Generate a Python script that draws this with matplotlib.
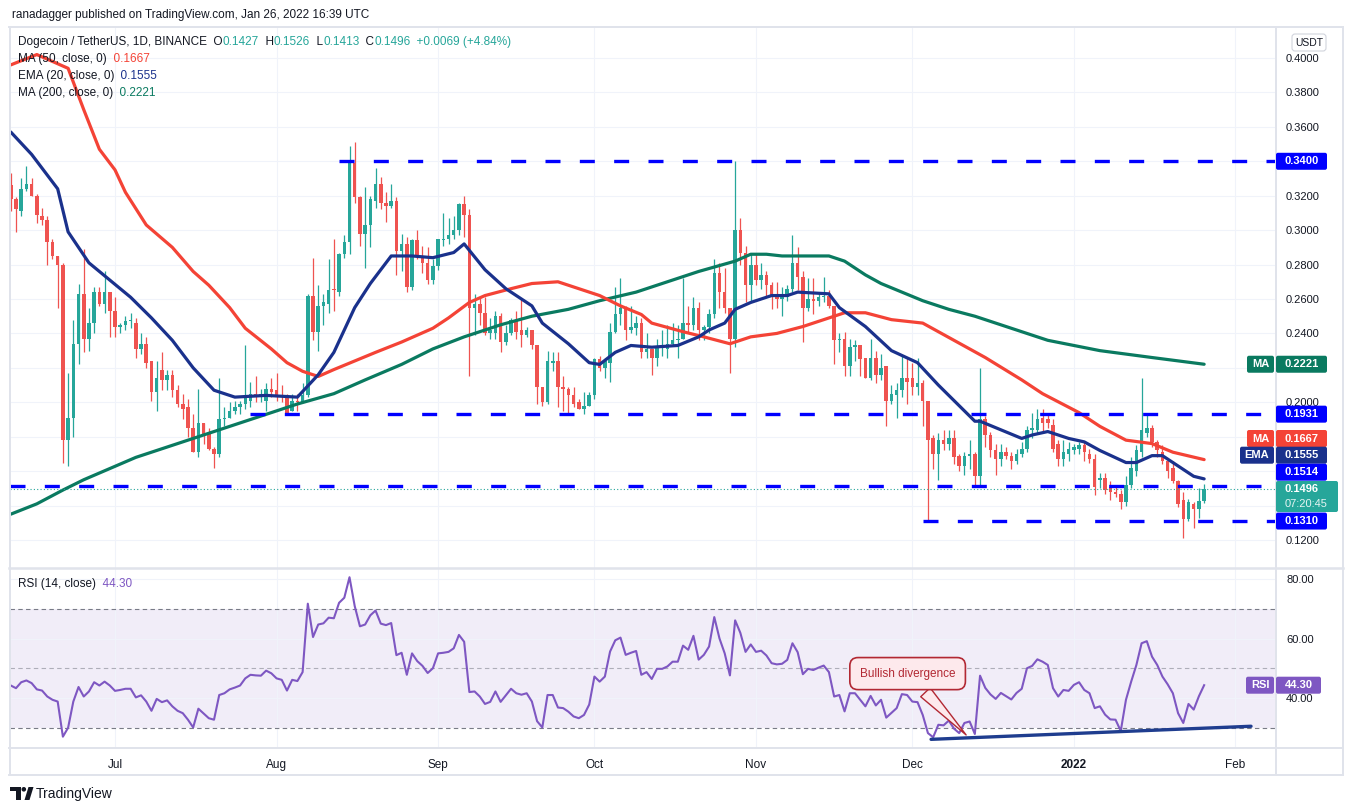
import numpy as np
import pandas as pd
import matplotlib
matplotlib.use("Agg")
import matplotlib.pyplot as plt
from matplotlib.patches import FancyBboxPatch, Polygon, Circle
from matplotlib.transforms import IdentityTransform
from matplotlib.lines import Line2D

plt.rcParams['font.family'] = ['Liberation Sans', 'DejaVu Sans']

W, H = 1353, 811

# daily bars, DOGE/USDT, 11 Jun 2021 .. 26 Jan 2022
start = pd.Timestamp('2021-06-11')
dates = pd.date_range(start, '2022-01-26', freq='D')

opens = [
    .326, .318, .311, .324, .327, .320, .308, .306, .293, .285,
    .280, .178, .191, .234, .263, .237, .246, .264, .257, .264,
    .253, .244, .245, .247, .246, .231, .234, .224, .206, .219,
    .213, .216, .207, .199, .197, .185, .171, .188, .182, .173,
    .170, .190, .191, .195, .197, .199, .201, .205, .204, .201,
    .208, .207, .204, .203, .195, .201, .200, .204, .262, .241,
    .256, .257, .266, .264, .286, .293, .339, .319, .298, .303,
    .317, .327, .316, .314, .317, .288, .292, .267, .294, .285,
    .281, .271, .279, .294, .295, .297, .300, .315, .309, .255,
    .257, .252, .240, .240, .250, .235, .240, .248, .242, .239,
    .242, .233, .209, .200, .223, .224, .209, .208, .204, .200,
    .196, .198, .204, .225, .220, .223, .241, .251, .255, .242,
    .243, .246, .229, .231, .226, .232, .231, .234, .236, .237,
    .246, .245, .255, .242, .244, .251, .275, .264, .255, .237,
    .300, .287, .268, .280, .271, .274, .268, .262, .260, .261,
    .266, .281, .273, .255, .260, .259, .261, .262, .256, .236,
    .237, .221, .232, .233, .226, .214, .226, .216, .221, .201,
    .204, .207, .214, .214, .209, .211, .201, .179, .170, .178,
    .176, .179, .169, .163, .169, .170, .157, .190, .181, .172,
    .167, .171, .169, .166, .170, .173, .184, .184, .191, .190,
    .187, .176, .167, .170, .172, .173, .175, .170, .167, .155,
    .156, .151, .148, .147, .142, .152, .160, .171, .182, .185,
    .177, .171, .166, .162, .154, .143, .132, .141, .138, .1427,
]
highs = [
    .333, .319, .330, .337, .330, .321, .313, .308, .295, .285,
    .281, .217, .248, .269, .289, .255, .267, .267, .276, .264,
    .261, .246, .250, .252, .249, .240, .238, .224, .224, .229,
    .219, .219, .210, .205, .202, .193, .208, .188, .185, .174,
    .214, .197, .200, .201, .201, .233, .212, .215, .208, .211,
    .214, .217, .210, .205, .205, .205, .211, .263, .284, .268,
    .263, .283, .295, .287, .297, .349, .351, .320, .325, .320,
    .336, .331, .322, .327, .319, .298, .296, .295, .300, .291,
    .290, .283, .295, .310, .307, .308, .316, .320, .312, .263,
    .262, .261, .249, .253, .252, .245, .249, .253, .260, .244,
    .242, .233, .209, .230, .229, .229, .215, .209, .209, .202,
    .206, .206, .226, .227, .226, .246, .267, .272, .256, .256,
    .250, .249, .240, .231, .237, .242, .245, .246, .245, .272,
    .256, .261, .258, .245, .254, .283, .281, .278, .255, .340,
    .307, .291, .287, .286, .281, .276, .270, .270, .267, .268,
    .297, .290, .276, .272, .272, .264, .273, .265, .256, .240,
    .241, .237, .236, .233, .226, .237, .230, .228, .221, .210,
    .211, .227, .226, .223, .226, .213, .201, .181, .182, .184,
    .184, .184, .170, .171, .178, .171, .220, .192, .183, .176,
    .176, .174, .171, .173, .177, .186, .194, .196, .196, .194,
    .190, .178, .178, .177, .176, .177, .177, .173, .170, .159,
    .159, .154, .152, .149, .157, .168, .175, .214, .194, .187,
    .178, .175, .167, .166, .155, .148, .144, .142, .150, .1526,
]
lows = [
    .311, .299, .308, .323, .320, .304, .303, .280, .283, .255,
    .165, .163, .180, .222, .229, .230, .240, .256, .252, .238,
    .238, .240, .242, .243, .226, .228, .220, .201, .195, .207,
    .207, .203, .197, .190, .180, .171, .168, .176, .172, .162,
    .168, .186, .191, .193, .193, .196, .197, .200, .200, .195,
    .203, .201, .200, .194, .195, .195, .200, .203, .236, .230,
    .245, .252, .253, .262, .284, .286, .316, .291, .278, .290,
    .313, .312, .305, .313, .274, .276, .264, .265, .283, .275,
    .269, .269, .277, .291, .292, .295, .297, .296, .215, .239,
    .245, .239, .237, .237, .229, .233, .239, .237, .232, .238,
    .231, .199, .198, .199, .218, .197, .195, .194, .197, .196,
    .193, .198, .202, .218, .214, .212, .240, .245, .236, .240,
    .239, .226, .226, .216, .221, .227, .226, .233, .226, .237,
    .241, .242, .236, .236, .240, .249, .255, .252, .217, .232,
    .280, .258, .259, .268, .266, .262, .254, .255, .250, .259,
    .264, .265, .235, .253, .251, .256, .258, .255, .222, .229,
    .215, .215, .224, .215, .214, .213, .211, .213, .186, .199,
    .191, .203, .199, .204, .204, .186, .131, .161, .155, .172,
    .172, .164, .160, .158, .161, .152, .152, .174, .168, .158,
    .163, .167, .161, .164, .168, .171, .179, .182, .183, .185,
    .171, .163, .163, .166, .170, .170, .166, .165, .146, .150,
    .147, .143, .145, .138, .140, .150, .157, .168, .180, .174,
    .168, .164, .156, .153, .139, .121, .131, .127, .133, .1413,
]
closes = [
    .318, .312, .324, .327, .320, .309, .306, .293, .285, .280,
    .178, .191, .234, .263, .237, .246, .264, .257, .264, .253,
    .244, .245, .247, .248, .231, .234, .223, .206, .214, .213,
    .216, .207, .199, .196, .185, .171, .188, .181, .173, .170,
    .190, .191, .195, .197, .199, .203, .205, .204, .205, .208,
    .206, .203, .203, .194, .201, .200, .204, .262, .241, .256,
    .258, .265, .265, .286, .293, .339, .319, .298, .303, .318,
    .327, .316, .314, .317, .288, .292, .267, .294, .285, .281,
    .271, .279, .295, .295, .297, .300, .315, .309, .255, .257,
    .252, .240, .242, .250, .235, .240, .248, .241, .239, .242,
    .233, .209, .200, .224, .224, .209, .208, .204, .199, .196,
    .198, .204, .225, .220, .224, .241, .251, .255, .242, .244,
    .246, .229, .231, .226, .232, .233, .234, .236, .237, .246,
    .245, .255, .242, .244, .251, .275, .264, .255, .237, .300,
    .287, .268, .280, .271, .274, .268, .261, .260, .262, .266,
    .281, .273, .255, .260, .259, .261, .262, .256, .236, .237,
    .221, .232, .233, .225, .214, .226, .216, .220, .201, .205,
    .207, .214, .212, .209, .211, .201, .178, .170, .178, .176,
    .179, .168, .163, .169, .170, .157, .190, .181, .172, .167,
    .171, .169, .166, .170, .173, .184, .185, .190, .188, .188,
    .173, .167, .171, .173, .174, .175, .171, .167, .151, .156,
    .149, .148, .147, .142, .152, .162, .172, .184, .185, .177,
    .172, .166, .160, .154, .141, .132, .142, .138, .1427, .1496,
]

# RSI(14) per bar
rsi = [
    44.2, 43.3, 45.3, 45.9, 45.0, 42.9, 42.5, 40.5, 39.4, 38.8,
    27.0, 30.0, 38.8, 43.7, 40.5, 42.2, 45.3, 44.2, 45.5, 44.2,
    42.4, 42.7, 43.1, 43.1, 40.2, 40.9, 38.8, 35.7, 39.7, 38.6,
    39.2, 37.2, 35.7, 34.9, 32.7, 30.1, 36.4, 34.8, 33.2, 32.7,
    41.0, 41.6, 42.9, 43.5, 44.2, 46.6, 47.8, 47.6, 47.5, 49.2,
    48.3, 46.6, 46.1, 42.5, 46.1, 45.7, 48.7, 71.7, 60.5, 64.7,
    65.1, 67.0, 66.8, 72.0, 73.7, 80.6, 70.9, 64.1, 64.7, 67.8,
    69.4, 65.0, 64.5, 65.2, 54.4, 55.2, 47.8, 55.0, 52.4, 50.8,
    48.4, 50.0, 55.0, 55.2, 55.5, 56.7, 61.2, 58.9, 42.0, 42.2,
    40.5, 38.0, 38.7, 42.2, 38.7, 40.9, 43.1, 41.6, 41.1, 41.6,
    38.8, 32.2, 30.1, 41.0, 41.0, 36.8, 36.6, 35.4, 33.8, 33.2,
    34.3, 37.8, 47.2, 45.5, 47.2, 55.6, 59.4, 60.3, 54.5, 55.2,
    55.8, 47.8, 48.7, 46.4, 49.8, 49.8, 50.6, 52.2, 52.2, 57.6,
    56.2, 60.9, 52.9, 54.5, 57.3, 67.2, 60.0, 55.0, 47.6, 66.1,
    61.9, 55.5, 58.0, 55.5, 55.9, 54.3, 51.7, 51.3, 51.5, 52.8,
    58.4, 55.4, 48.0, 49.8, 49.4, 50.2, 50.9, 48.7, 40.5, 41.0,
    35.5, 41.6, 41.6, 39.4, 37.2, 40.7, 37.5, 39.4, 33.4, 35.0,
    36.6, 41.3, 41.0, 38.8, 38.6, 34.3, 28.2, 26.8, 31.0, 30.8,
    32.4, 29.7, 28.2, 31.6, 32.1, 27.9, 47.5, 43.4, 41.2, 39.7,
    41.7, 40.6, 39.5, 41.7, 43.1, 50.0, 50.8, 53.0, 52.2, 51.1,
    43.3, 40.5, 42.7, 42.4, 44.4, 45.3, 42.7, 41.6, 36.6, 37.2,
    34.4, 32.8, 32.7, 28.9, 39.4, 45.5, 51.1, 58.4, 59.1, 53.9,
    51.1, 47.2, 44.6, 41.6, 34.9, 31.6, 38.0, 36.1, 40.6, 44.3,
]

# moving averages (bar index, value)
ema20_idx = [0, 4, 9, 11, 15, 19, 23, 27, 31, 35, 39, 43, 49, 55, 59, 62, 66, 69, 73, 77,
             81, 85, 87, 91, 95, 100, 102, 107, 111, 113, 116, 119, 123, 128, 132, 134, 137, 139, 142, 146,
             149, 151, 157, 159, 164, 169, 174, 178, 185, 186, 190, 194, 196, 199, 203, 206, 209, 214, 216, 219,
             221, 224, 227, 229]
ema20_val = [0.357, 0.344, 0.324, 0.299, 0.281, 0.271, 0.261, 0.249, 0.236, 0.220,
             0.207, 0.203, 0.204, 0.203, 0.216, 0.229, 0.255, 0.269, 0.285, 0.285,
             0.284, 0.287, 0.292, 0.277, 0.266, 0.256, 0.246, 0.234, 0.223, 0.222,
             0.229, 0.233, 0.232, 0.233, 0.238, 0.242, 0.246, 0.254, 0.258, 0.262,
             0.262, 0.264, 0.263, 0.255, 0.244, 0.230, 0.223, 0.210, 0.189, 0.189,
             0.184, 0.179, 0.181, 0.183, 0.179, 0.177, 0.172, 0.165, 0.165, 0.169,
             0.169, 0.163, 0.157, 0.1555]
ma50_idx = [0, 5, 11, 14, 17, 20, 22, 26, 31, 35, 38, 42, 45, 50, 53, 56, 59, 62, 66, 70,
            75, 81, 84, 88, 91, 96, 100, 105, 109, 113, 117, 121, 123, 129, 133, 138, 142, 147, 152, 157,
            160, 164, 169, 175, 181, 187, 194, 198, 205, 209, 214, 219, 223, 229]
ma50_val = [0.396, 0.402, 0.394, 0.370, 0.347, 0.335, 0.322, 0.303, 0.290, 0.276,
            0.268, 0.255, 0.243, 0.231, 0.223, 0.218, 0.215, 0.219, 0.224, 0.229,
            0.235, 0.243, 0.249, 0.258, 0.262, 0.266, 0.269, 0.270, 0.266, 0.262,
            0.256, 0.251, 0.246, 0.241, 0.238, 0.234, 0.238, 0.240, 0.244, 0.249,
            0.252, 0.252, 0.248, 0.246, 0.236, 0.226, 0.213, 0.205, 0.194, 0.186,
            0.178, 0.176, 0.171, 0.1667]
ma200_idx = [0, 5, 10, 14, 24, 30, 36, 43, 49, 55, 62, 68, 75, 81, 87, 94, 100, 107, 113, 120,
             126, 132, 139, 142, 145, 148, 157, 160, 164, 167, 175, 180, 185, 190, 195, 199, 209, 219, 229]
ma200_val = [0.135, 0.141, 0.149, 0.155, 0.168, 0.174, 0.180, 0.187, 0.193, 0.199,
             0.205, 0.213, 0.222, 0.231, 0.238, 0.245, 0.250, 0.254, 0.259, 0.264,
             0.270, 0.276, 0.282, 0.286, 0.286, 0.285, 0.285, 0.282, 0.274, 0.269,
             0.259, 0.254, 0.250, 0.245, 0.240, 0.236, 0.230, 0.226, 0.2221]

# horizontal levels drawn by the author
levels = [0.3400, 0.1931, 0.1514, 0.1310]
level_from = ['2021-08-13', '2021-07-27', None, '2021-12-03']

# RSI divergence trend line
trend_idx = [176.6, 238.0]
trend_rsi = [26.1, 30.5]

month_starts = ['2021-07-01', '2021-08-01', '2021-09-01', '2021-10-01',
                '2021-11-01', '2021-12-01', '2022-01-01', '2022-02-01']
month_labels = ['Jul', 'Aug', 'Sep', 'Oct', 'Nov', 'Dec', '2022', 'Feb']
price_ticks = [0.12, 0.14, 0.16, 0.18, 0.20, 0.22, 0.24, 0.26, 0.28, 0.30, 0.32, 0.34, 0.36, 0.38, 0.40]
hidden_ticks = [0.14, 0.16, 0.18, 0.22, 0.34]   # covered by value tags on the chart
rsi_ticks = [40, 60, 80]

UP, DOWN = '#26a69a', '#ef5350'
MA50_C, EMA_C, MA200_C = '#f44336', '#1a318c', '#0a7a60'
LEVEL_C = '#0000ff'
RSI_C = '#7e57c2'
TXT = '#131722'
FRAME = '#e0e3eb'
GRID = '#f0f3fa'


def rect(x0, y0, x1, y1):
    return [x0 / W, 1 - y1 / H, (x1 - x0) / W, (y1 - y0) / H]


fig = plt.figure(figsize=(W / 100, H / 100), dpi=100)
fig.patch.set_facecolor('white')
ax = fig.add_axes(rect(10, 27, 1275, 568))
axr = fig.add_axes(rect(10, 568, 1275, 748), sharex=ax)

x = np.arange(len(dates))
o, h, l, c = map(np.array, (opens, highs, lows, closes))
col = np.where(c >= o, UP, DOWN)

# candles
ax.vlines(x, l, h, colors=col, lw=0.9, zorder=2)
ax.bar(x, np.maximum(np.abs(c - o), 0.0007), bottom=np.minimum(o, c),
       width=0.68, color=col, lw=0, zorder=2)

# moving averages
ax.plot(ma200_idx, ma200_val, color=MA200_C, lw=2.3, zorder=3, solid_capstyle='round')
ax.plot(ma50_idx, ma50_val, color=MA50_C, lw=2.3, zorder=3, solid_capstyle='round')
ax.plot(ema20_idx, ema20_val, color=EMA_C, lw=2.3, zorder=3, solid_capstyle='round')

xmin, xmax = -0.15, 242.6
ax.set_xlim(xmin, xmax)
ax.set_ylim(0.10373, 0.41801)

for lv, frm in zip(levels, level_from):
    x0 = xmin if frm is None else (pd.Timestamp(frm) - start).days
    ax.hlines(lv, x0, xmax, color=LEVEL_C, lw=2.4, linestyles=(0, (4.5, 5.8)), zorder=4)

ax.axhline(closes[-1], color=UP, lw=0.8, ls=(0, (1, 2)), zorder=4)

month_idx = [(pd.Timestamp(m) - start).days for m in month_starts]
ax.set_xticks(month_idx)
ax.set_yticks(price_ticks)
ax.set_yticklabels(['' if any(abs(t - hT) < 1e-9 for hT in hidden_ticks) else f'{t:.4f}'
                    for t in price_ticks])
ax.yaxis.tick_right()
ax.tick_params(axis='y', length=0, pad=8, labelsize=8, labelcolor=TXT)
ax.tick_params(axis='x', length=0, labelbottom=False)
ax.grid(True, color=GRID, lw=0.8)
ax.set_axisbelow(True)
for s in ax.spines.values():
    s.set_visible(False)

# RSI panel
axr.axhspan(30, 70, color=RSI_C, alpha=0.1, lw=0, zorder=0)
axr.axhline(70, color='#787b86', lw=0.8, ls=(0, (4, 3)), zorder=1)
axr.axhline(30, color='#787b86', lw=0.8, ls=(0, (4, 3)), zorder=1)
axr.axhline(50, color='#787b86', lw=0.8, ls=(0, (4, 3)), alpha=0.55, zorder=1)
axr.plot(x, rsi, color=RSI_C, lw=1.5, zorder=3)
axr.plot(trend_idx, trend_rsi, color='#1f3d8f', lw=2.4, zorder=4, solid_capstyle='round')
axr.set_ylim(23.19, 83.70)
axr.set_yticks(rsi_ticks)
axr.set_yticklabels([f'{t:.2f}' for t in rsi_ticks])
axr.yaxis.tick_right()
axr.tick_params(axis='y', length=0, pad=8, labelsize=8, labelcolor=TXT)
axr.set_xticks(month_idx)
axr.set_xticklabels(month_labels)
axr.tick_params(axis='x', length=0, pad=8, labelsize=8.5, labelcolor=TXT)
axr.get_xticklabels()[6].set_fontweight('bold')
axr.grid(True, color=GRID, lw=0.8)
axr.set_axisbelow(True)
for s in axr.spines.values():
    s.set_visible(False)

# callout
tip = (163.7 + 20, 26.9)
axr.annotate('Bullish divergence', xy=tip, xytext=(172.1, 48.2), ha='center', va='center',
             color='#b22833', fontsize=8.5, zorder=6,
             bbox=dict(boxstyle='round,pad=0.85,rounding_size=0.7', fc='#fde9ec', ec='#b22833', lw=1.2),
             arrowprops=dict(arrowstyle='wedge,tail_width=1.1,shrink_factor=0.5',
                             fc='#fde9ec', ec='#b22833', lw=1.0))

# frame
IT = IdentityTransform()


def hline_px(y, x0, x1, lw=1.4):
    fig.add_artist(Line2D([x0, x1], [H - y, H - y], transform=IT, color=FRAME, lw=lw, zorder=1))


def vline_px(xp, y0, y1, lw=1.4):
    fig.add_artist(Line2D([xp, xp], [H - y0, H - y1], transform=IT, color=FRAME, lw=lw, zorder=1))


hline_px(27, 9, 1343)
hline_px(775, 9, 1343)
hline_px(568, 9, 1343, lw=1.8)
hline_px(748, 9, 1343)
vline_px(9.5, 27, 775)
vline_px(1342.5, 27, 775)
vline_px(1275.5, 27, 775)


def img_y(axis, v):
    return H - axis.transData.transform((0, v))[1]


def box(x0, x1, yc, hgt, color, text, weight='bold', size=8, tc='white'):
    fig.add_artist(FancyBboxPatch((x0, H - yc - hgt / 2), x1 - x0, hgt,
                                  boxstyle='round,pad=0,rounding_size=2', transform=IT,
                                  fc=color, ec='none', zorder=5))
    fig.text((x0 + x1) / 2, H - yc, text, transform=IT, ha='center', va='center',
             color=tc, fontsize=size, fontweight=weight, zorder=6)


# right-axis value tags (stacked where they would overlap)
box(1276, 1327, img_y(ax, levels[0]), 17, LEVEL_C, f'{levels[0]:.4f}')
y_ma200 = img_y(ax, ma200_val[-1])
box(1247, 1274, y_ma200, 17, MA200_C, 'MA')
box(1276, 1327, y_ma200, 17, MA200_C, f'{ma200_val[-1]:.4f}')
box(1276, 1327, img_y(ax, levels[1]), 17, LEVEL_C, f'{levels[1]:.4f}')
box(1247, 1274, 438.5, 17, MA50_C, 'MA')
box(1276, 1327, 438.5, 17, MA50_C, f'{ma50_val[-1]:.4f}')
box(1240, 1274, 455.2, 17, EMA_C, 'EMA')
box(1276, 1327, 455.2, 17, EMA_C, f'{ema20_val[-1]:.4f}')
box(1276, 1327, 472.2, 17, LEVEL_C, f'{levels[2]:.4f}')
fig.add_artist(FancyBboxPatch((1276, H - 512), 62, 31, boxstyle='round,pad=0,rounding_size=2',
                              transform=IT, fc=UP, ec='none', zorder=5))
fig.text(1301.5, H - 489, f'{closes[-1]:.4f}', transform=IT, ha='center', va='center',
         color='white', fontsize=8, fontweight='bold', zorder=6)
fig.text(1306, H - 504, '07:20:45', transform=IT, ha='center', va='center',
         color='#e6f5f3', fontsize=8, zorder=6)
box(1276, 1327, img_y(ax, levels[3]), 17, LEVEL_C, f'{levels[3]:.4f}')
y_rsi = img_y(axr, rsi[-1])
box(1246, 1274, y_rsi, 17, RSI_C, 'RSI')
box(1276, 1321, y_rsi, 17, RSI_C, f'{rsi[-1]:.2f}')

# USDT unit tag
fig.add_artist(FancyBboxPatch((1292, H - 51), 34, 17, boxstyle='round,pad=0,rounding_size=3',
                              transform=IT, fc='white', ec='#d1d4dc', lw=0.8, zorder=5))
fig.text(1309, H - 42.5, 'USDT', transform=IT, ha='center', va='center',
         color=TXT, fontsize=7.5, zorder=6)

# text lines
renderer = fig.canvas.get_renderer()


def seg_line(xp, yp, parts, size=8.5):
    for s, cl in parts:
        t = fig.text(xp, H - yp, s, transform=IT, color=cl, fontsize=size,
                     ha='left', va='center', zorder=7)
        xp += t.get_window_extent(renderer).width


chg = closes[-1] - closes[-2]
pct = chg / closes[-2] * 100
fig.text(12, H - 15, 'ranadagger published on TradingView.com, Jan 26, 2022 16:39 UTC',
         transform=IT, color=TXT, fontsize=8.5, ha='left', va='center')
seg_line(18, 42, [('Dogecoin / TetherUS, 1D, BINANCE', TXT),
                  ('  O', TXT), (f'{opens[-1]:.4f}', UP),
                  ('  H', TXT), (f'{highs[-1]:.4f}', UP),
                  ('  L', TXT), (f'{lows[-1]:.4f}', UP),
                  ('  C', TXT), (f'{closes[-1]:.4f}', UP),
                  (f'  {chg:+.4f} ({pct:+.2f}%)', UP)])
seg_line(18, 59, [('MA (50, close, 0)', TXT), (f'  {ma50_val[-1]:.4f}', MA50_C)])
seg_line(18, 76, [('EMA (20, close, 0)', TXT), (f'  {ema20_val[-1]:.4f}', EMA_C)])
seg_line(18, 93, [('MA (200, close, 0)', TXT), (f'  {ma200_val[-1]:.4f}', MA200_C)])
seg_line(18, 584, [('RSI (14, close)', TXT), (f'  {rsi[-1]:.2f}', RSI_C)])

# footer logo
fig.add_artist(Polygon([(10, H - 787), (20.5, H - 787), (20.5, H - 800), (15.5, H - 800),
                        (15.5, H - 791), (10, H - 791)], closed=True, transform=IT,
                       fc=TXT, ec='none'))
fig.add_artist(Circle((23.8, H - 789.3), 2.3, transform=IT, fc=TXT, ec='none'))
fig.add_artist(Polygon([(24.5, H - 800), (29.5, H - 800), (33.5, H - 787), (28.5, H - 787)],
                       closed=True, transform=IT, fc=TXT, ec='none'))
fig.text(36, H - 794, 'TradingView', transform=IT, color=TXT, fontsize=10,
         ha='left', va='center')

fig.savefig('out.png', dpi=100)
